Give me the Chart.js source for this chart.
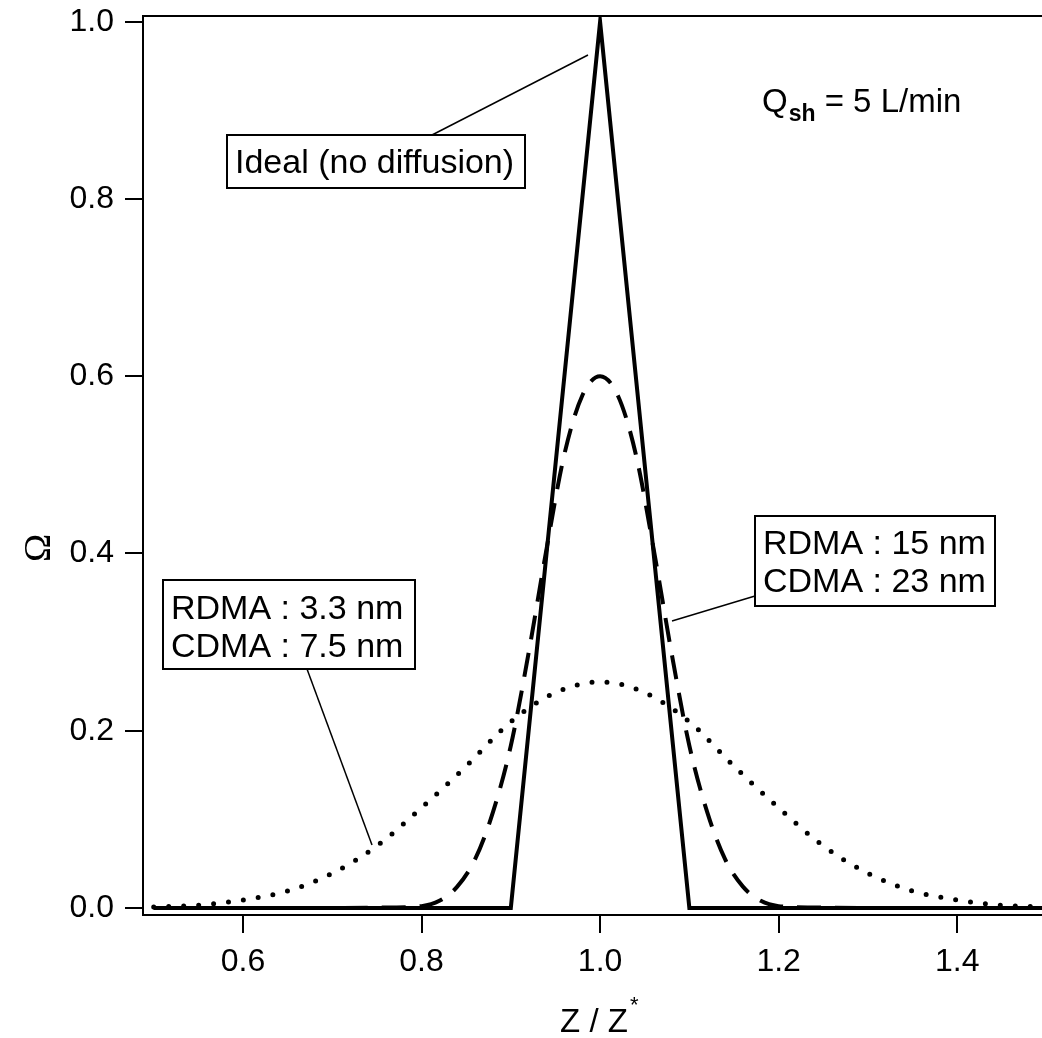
<!DOCTYPE html>
<html>
<head>
<meta charset="utf-8">
<script src="https://cdn.jsdelivr.net/npm/chart.js@4/dist/chart.umd.min.js"></script>
<style>
  html, body { margin: 0; padding: 0; background: #fff; }
  canvas { display: block; }
</style>
</head>
<body>
<canvas id="chart" width="1042" height="1038"></canvas>
<script>
// ================= DATA =================
const xTicks = [0.6, 0.8, 1.0, 1.2, 1.4];
const yTicks = [0.0, 0.2, 0.4, 0.6, 0.8, 1.0];

// ideal transfer function (no diffusion)
const idealZ = [0.5, 0.9, 1.0, 1.1, 1.5];
const idealOmega = [0, 0, 1, 0, 0];

// RDMA 15 nm / CDMA 23 nm (dashed)
const largeZ = [0.5, 0.6, 0.7, 0.76, 0.8, 0.82, 0.84, 0.86, 0.88, 0.9, 0.92, 0.94, 0.96, 0.98, 1.0,
                1.02, 1.04, 1.06, 1.08, 1.1, 1.12, 1.14, 1.16, 1.18, 1.2, 1.24, 1.3, 1.4, 1.5];
const largeOmega = [0, 0, 0, 0.0005, 0.002, 0.008, 0.024, 0.055, 0.108, 0.183, 0.288, 0.405, 0.512, 0.578, 0.600,
                    0.578, 0.512, 0.405, 0.288, 0.183, 0.108, 0.055, 0.024, 0.008, 0.002, 0.0005, 0, 0, 0];

// RDMA 3.3 nm / CDMA 7.5 nm (dotted)
const smallZ = [0.5, 0.55, 0.6, 0.65, 0.7, 0.75, 0.8, 0.85, 0.9, 0.95, 1.0,
                1.05, 1.1, 1.15, 1.2, 1.25, 1.3, 1.35, 1.4, 1.45, 1.5];
const smallOmega = [0.001, 0.003, 0.009, 0.019, 0.039, 0.070, 0.113, 0.160, 0.210, 0.243, 0.255,
                    0.243, 0.210, 0.160, 0.113, 0.070, 0.039, 0.019, 0.009, 0.003, 0.001];

const toPoints = (xs, ys) => xs.map((x, i) => ({ x, y: ys[i] }));

const FONT = "'Liberation Sans', Arial, Helvetica, sans-serif";

// ================= ANNOTATIONS =================
const annotations = {
  id: "annotations",
  afterDraw(chart) {
    const ctx = chart.ctx;
    const area = chart.chartArea;
    ctx.save();

    // top frame line
    ctx.strokeStyle = "#000";
    ctx.lineWidth = 2;
    ctx.beginPath();
    ctx.moveTo(area.left, area.top);
    ctx.lineTo(area.right, area.top);
    ctx.stroke();

    // leader lines
    ctx.lineWidth = 1.5;
    const leaders = [
      [432, 135, 588, 55],
      [307, 669, 372, 845],
      [755, 596, 672, 621]
    ];
    leaders.forEach(([x1, y1, x2, y2]) => {
      ctx.beginPath();
      ctx.moveTo(x1, y1);
      ctx.lineTo(x2, y2);
      ctx.stroke();
    });

    // boxed labels
    const boxes = [
      { x: 227, y: 135, w: 298, h: 53, lines: ["Ideal (no diffusion)"], tx: 235, ty: [173] },
      { x: 163, y: 580, w: 252, h: 89, lines: ["RDMA : 3.3 nm", "CDMA : 7.5 nm"], tx: 171, ty: [619, 657] },
      { x: 755, y: 516, w: 240, h: 90, lines: ["RDMA : 15 nm", "CDMA : 23 nm"], tx: 763, ty: [554, 592] }
    ];
    ctx.font = `34px ${FONT}`;
    ctx.textBaseline = "alphabetic";
    ctx.textAlign = "left";
    boxes.forEach(b => {
      ctx.fillStyle = "#fff";
      ctx.fillRect(b.x, b.y, b.w, b.h);
      ctx.lineWidth = 2;
      ctx.strokeRect(b.x, b.y, b.w, b.h);
      ctx.fillStyle = "#000";
      b.lines.forEach((t, i) => ctx.fillText(t, b.tx, b.ty[i]));
    });

    // Q_sh = 5 L/min
    let qx = 762;
    ctx.font = `33px ${FONT}`;
    ctx.fillText("Q", qx, 112);
    qx += ctx.measureText("Q").width + 1;
    ctx.font = `bold 23px ${FONT}`;
    ctx.fillText("sh", qx, 121);
    qx += ctx.measureText("sh").width;
    ctx.font = `33px ${FONT}`;
    ctx.fillText(" = 5 L/min", qx, 112);

    // x axis title Z / Z*
    ctx.font = `33px ${FONT}`;
    const main = "Z / Z";
    const mw = ctx.measureText(main).width;
    const xs = 598 - mw / 2 - 4;
    ctx.fillText(main, xs, 1032);
    ctx.font = `22px ${FONT}`;
    ctx.fillText("*", xs + mw + 2, 1012);

    // y axis title Omega
    ctx.translate(40, 548);
    ctx.rotate(-Math.PI / 2);
    ctx.textAlign = "center";
    ctx.textBaseline = "middle";
    ctx.font = `38px 'Liberation Serif', 'Times New Roman', serif`;
    ctx.fillText("Ω", 0, 0);

    ctx.restore();
  }
};

// ================= CHART =================
const axisGrid = { display: true, drawOnChartArea: false, drawTicks: true, tickLength: 18, color: "#000", lineWidth: 2 };
const axisBorder = { display: true, color: "#000", width: 2 };

new Chart(document.getElementById("chart").getContext("2d"), {
  type: "line",
  data: {
    datasets: [
      {
        label: "RDMA 3.3 nm / CDMA 7.5 nm",
        data: toPoints(smallZ, smallOmega),
        borderColor: "#000",
        borderWidth: 5,
        borderDash: [0, 15],
        borderCapStyle: "round",
        cubicInterpolationMode: "monotone",
        pointRadius: 0
      },
      {
        label: "RDMA 15 nm / CDMA 23 nm",
        data: toPoints(largeZ, largeOmega),
        borderColor: "#000",
        borderWidth: 4,
        borderDash: [24, 14],
        cubicInterpolationMode: "monotone",
        pointRadius: 0
      },
      {
        label: "Ideal (no diffusion)",
        data: toPoints(idealZ, idealOmega),
        borderColor: "#000",
        borderWidth: 4,
        tension: 0,
        pointRadius: 0
      }
    ]
  },
  options: {
    responsive: false,
    devicePixelRatio: 1,
    animation: false,
    layout: { padding: { top: 16, right: 0, left: 0, bottom: 0 } },
    plugins: { legend: { display: false }, tooltip: { enabled: false } },
    scales: {
      x: {
        type: "linear",
        min: 0.488,
        max: 1.495,
        grid: axisGrid,
        border: axisBorder,
        afterBuildTicks: s => { s.ticks = xTicks.map(v => ({ value: v })); },
        afterFit: s => { s.height = 123; s.paddingLeft = 0; s.paddingRight = 0; },
        ticks: {
          color: "#000",
          padding: 10,
          maxRotation: 0,
          font: { family: FONT, size: 32 },
          callback: v => Number(v).toFixed(1)
        }
      },
      y: {
        min: -0.008,
        max: 1.0065,
        grid: axisGrid,
        border: axisBorder,
        afterBuildTicks: s => { s.ticks = yTicks.map(v => ({ value: v })); },
        afterFit: s => { s.width = 143; s.paddingTop = 0; s.paddingBottom = 0; },
        ticks: {
          color: "#000",
          padding: 11,
          font: { family: FONT, size: 32 },
          callback: v => Number(v).toFixed(1)
        }
      }
    }
  },
  plugins: [annotations]
});
</script>
</body>
</html>
